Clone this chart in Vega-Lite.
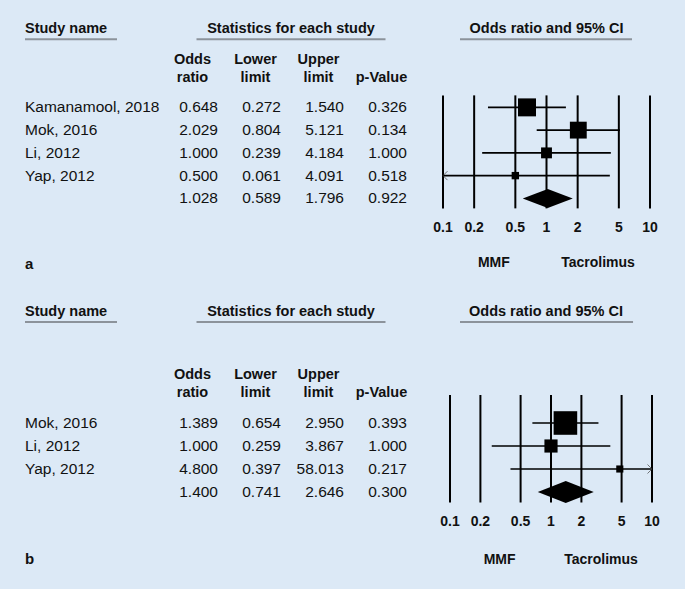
{
  "$schema": "https://vega.github.io/schema/vega-lite/v6.json",
  "background": "#dce9f6",
  "padding": {"left": 24, "top": 5, "right": 36, "bottom": 20},
  "spacing": 18.5,
  "config": {
    "view": {"stroke": null},
    "text": {"font": "Liberation Sans", "color": "#111111"}
  },
  "datasets": {
    "a_rows": [
      {"row": "Kamanamool, 2018", "type": "study", "or": 0.648, "lo": 0.272, "hi": 1.540, "p": 0.326, "w": 41.4},
      {"row": "Mok, 2016", "type": "study", "or": 2.029, "lo": 0.804, "hi": 5.121, "p": 0.134, "w": 36.4},
      {"row": "Li, 2012", "type": "study", "or": 1.000, "lo": 0.239, "hi": 4.184, "p": 1.000, "w": 15.2},
      {"row": "Yap, 2012", "type": "study", "or": 0.500, "lo": 0.061, "hi": 4.091, "p": 0.518, "w": 7.0},
      {"row": "Overall", "type": "summary", "or": 1.028, "lo": 0.589, "hi": 1.796, "p": 0.922}
    ],
    "b_rows": [
      {"row": "Mok, 2016", "type": "study", "or": 1.389, "lo": 0.654, "hi": 2.950, "p": 0.393, "w": 71.3},
      {"row": "Li, 2012", "type": "study", "or": 1.000, "lo": 0.259, "hi": 3.867, "p": 1.000, "w": 22.2},
      {"row": "Yap, 2012", "type": "study", "or": 4.800, "lo": 0.397, "hi": 58.013, "p": 0.217, "w": 6.5},
      {"row": "Overall", "type": "summary", "or": 1.400, "lo": 0.741, "hi": 2.646, "p": 0.300}
    ],
    "ticks": [{"v": 0.1}, {"v": 0.2}, {"v": 0.5}, {"v": 1}, {"v": 2}, {"v": 5}, {"v": 10}],
    "colheads": [
      {"col": "or", "line": 1, "h": "Odds"},
      {"col": "or", "line": 2, "h": "ratio"},
      {"col": "lo", "line": 1, "h": "Lower"},
      {"col": "lo", "line": 2, "h": "limit"},
      {"col": "hi", "line": 1, "h": "Upper"},
      {"col": "hi", "line": 2, "h": "limit"},
      {"col": "p", "line": 2, "h": "p-Value"}
    ]
  },
  "vconcat": [
    {
      "bounds": "flush",
      "spacing": 48,
      "hconcat": [
        {
          "width": 92,
          "height": 273,
          "encoding": {"y": {"field": "row", "type": "nominal", "scale": {"type": "band", "domain": ["top", "hdr", "g1", "ch", "Kamanamool, 2018", "Mok, 2016", "Li, 2012", "Yap, 2012", "Overall", "ticks", "g2", "fav"], "paddingInner": 0, "paddingOuter": 0}, "axis": null}},
          "layer": [
            {
              "data": {"name": "a_rows"},
              "transform": [{"filter": "datum.type === 'study'"}],
              "mark": {"type": "text", "align": "left", "baseline": "middle", "fontSize": 15.5},
              "encoding": {
                "x": {"datum": "name", "type": "nominal", "scale": {"type": "point", "domain": ["name"], "padding": 0, "align": 0}, "axis": null},
                "text": {"field": "row"}
              }
            },
            {
              "data": {"values": [{"row": "hdr", "t": "Study name"}]},
              "mark": {"type": "text", "align": "left", "baseline": "middle", "dy": -10, "fontSize": 14.5, "fontWeight": "bold"},
              "encoding": {
                "x": {"datum": "name", "type": "nominal", "scale": {"type": "point", "domain": ["name"], "padding": 0, "align": 0}, "axis": null},
                "text": {"field": "t"}
              }
            },
            {
              "data": {"values": [{"row": "hdr"}]},
              "mark": {"type": "rule", "color": "#8c939b", "strokeWidth": 2},
              "encoding": {}
            },
            {
              "data": {"values": [{"row": "fav", "t": "a"}]},
              "mark": {"type": "text", "align": "left", "baseline": "middle", "dy": -2.5, "fontSize": 15, "fontWeight": "bold"},
              "encoding": {
                "x": {"datum": "name", "type": "nominal", "scale": {"type": "point", "domain": ["name"], "padding": 0, "align": 0}, "axis": null},
                "text": {"field": "t"}
              }
            }
          ]
        },
        {
          "bounds": "flush",
          "spacing": 26,
          "hconcat": [
            {
              "width": 252,
              "height": 273,
              "encoding": {"y": {"field": "row", "type": "nominal", "scale": {"type": "band", "domain": ["top", "hdr", "g1", "ch", "Kamanamool, 2018", "Mok, 2016", "Li, 2012", "Yap, 2012", "Overall", "ticks", "g2", "fav"], "paddingInner": 0, "paddingOuter": 0}, "axis": null}},
              "layer": [
                {
                  "data": {"name": "a_rows"},
                  "transform": [{"fold": ["or", "lo", "hi", "p"], "as": ["col", "val"]}],
                  "mark": {"type": "text", "align": "right", "baseline": "middle", "fontSize": 15.5, "dx": -10},
                  "encoding": {
                    "x": {"field": "col", "type": "nominal", "bandPosition": 1, "scale": {"type": "band", "domain": ["or", "lo", "hi", "p"], "paddingInner": 0, "paddingOuter": 0}, "axis": null},
                    "text": {"field": "val", "type": "quantitative", "format": ".3f"}
                  }
                },
                {
                  "data": {"name": "colheads"},
                  "transform": [{"filter": "datum.line === 1"}],
                  "mark": {"type": "text", "align": "center", "baseline": "bottom", "fontSize": 14.5, "fontWeight": "bold", "dx": -4, "dy": -18},
                  "encoding": {
                    "x": {"field": "col", "type": "nominal", "scale": {"type": "band", "domain": ["or", "lo", "hi", "p"], "paddingInner": 0, "paddingOuter": 0}, "axis": null},
                    "y": {"datum": "ch", "type": "nominal", "scale": {"type": "band", "domain": ["top", "hdr", "g1", "ch", "Kamanamool, 2018", "Mok, 2016", "Li, 2012", "Yap, 2012", "Overall", "ticks", "g2", "fav"], "paddingInner": 0, "paddingOuter": 0}, "axis": null},
                    "text": {"field": "h"}
                  }
                },
                {
                  "data": {"name": "colheads"},
                  "transform": [{"filter": "datum.line === 2"}],
                  "mark": {"type": "text", "align": "center", "baseline": "bottom", "fontSize": 14.5, "fontWeight": "bold", "dx": -4},
                  "encoding": {
                    "x": {"field": "col", "type": "nominal", "scale": {"type": "band", "domain": ["or", "lo", "hi", "p"], "paddingInner": 0, "paddingOuter": 0}, "axis": null},
                    "y": {"datum": "ch", "type": "nominal", "scale": {"type": "band", "domain": ["top", "hdr", "g1", "ch", "Kamanamool, 2018", "Mok, 2016", "Li, 2012", "Yap, 2012", "Overall", "ticks", "g2", "fav"], "paddingInner": 0, "paddingOuter": 0}, "axis": null},
                    "text": {"field": "h"}
                  }
                },
                {
                  "data": {"values": [{"row": "hdr", "col": "lo", "t": "Statistics for each study"}]},
                  "mark": {"type": "text", "align": "center", "baseline": "middle", "dy": -10, "fontSize": 14.5, "fontWeight": "bold"},
                  "encoding": {
                    "x": {"field": "col", "type": "nominal", "bandPosition": 1, "scale": {"type": "band", "domain": ["or", "lo", "hi", "p"], "paddingInner": 0, "paddingOuter": 0}, "axis": null},
                    "text": {"field": "t"}
                  }
                },
                {
                  "data": {"values": [{"row": "hdr", "col": "or", "col2": "p"}]},
                  "mark": {"type": "rule", "color": "#8c939b", "strokeWidth": 2},
                  "encoding": {
                    "x": {"field": "col", "type": "nominal", "scale": {"type": "band", "domain": ["or", "lo", "hi", "p"], "paddingInner": 0, "paddingOuter": 0}, "axis": null},
                    "x2": {"field": "col2"}
                  }
                }
              ]
            },
            {
              "width": 207,
              "height": 273,
              "encoding": {"y": {"field": "row", "type": "nominal", "scale": {"type": "band", "domain": ["top", "hdr", "g1", "ch", "Kamanamool, 2018", "Mok, 2016", "Li, 2012", "Yap, 2012", "Overall", "ticks", "g2", "fav"], "paddingInner": 0, "paddingOuter": 0}, "axis": null}},
              "layer": [
                {
                  "data": {"name": "ticks"},
                  "mark": {"type": "rule", "color": "#000000", "strokeWidth": 2, "yOffset": -12, "y2Offset": 10},
                  "encoding": {
                    "x": {"field": "v", "type": "quantitative", "scale": {"type": "log", "domain": [0.1, 10], "clamp": true, "nice": false}, "axis": null},
                    "y": {"datum": "Kamanamool, 2018", "type": "nominal", "scale": {"type": "band", "domain": ["top", "hdr", "g1", "ch", "Kamanamool, 2018", "Mok, 2016", "Li, 2012", "Yap, 2012", "Overall", "ticks", "g2", "fav"], "paddingInner": 0, "paddingOuter": 0}, "axis": null},
                    "y2": {"datum": "Overall"}
                  }
                },
                {
                  "data": {"name": "ticks"},
                  "mark": {"type": "text", "align": "center", "baseline": "middle", "dy": 7, "fontSize": 14, "fontWeight": "bold"},
                  "encoding": {
                    "x": {"field": "v", "type": "quantitative", "scale": {"type": "log", "domain": [0.1, 10], "clamp": true, "nice": false}, "axis": null},
                    "y": {"datum": "ticks", "type": "nominal", "scale": {"type": "band", "domain": ["top", "hdr", "g1", "ch", "Kamanamool, 2018", "Mok, 2016", "Li, 2012", "Yap, 2012", "Overall", "ticks", "g2", "fav"], "paddingInner": 0, "paddingOuter": 0}, "axis": null},
                    "text": {"field": "v", "type": "quantitative", "format": "~g"}
                  }
                },
                {
                  "data": {"name": "a_rows"},
                  "transform": [{"filter": "datum.type === 'study'"}],
                  "mark": {"type": "rule", "color": "#000000", "strokeWidth": 1.6},
                  "encoding": {
                    "x": {"field": "lo", "type": "quantitative", "scale": {"type": "log", "domain": [0.1, 10], "clamp": true, "nice": false}, "axis": null},
                    "x2": {"field": "hi"}
                  }
                },
                {
                  "data": {"name": "a_rows"},
                  "transform": [{"filter": "datum.lo < 0.1"}],
                  "mark": {"type": "point", "shape": "M1,-1L0,0L1,1", "filled": false, "stroke": "#444444", "strokeWidth": 1, "size": 81},
                  "encoding": {
                    "x": {"field": "lo", "type": "quantitative", "scale": {"type": "log", "domain": [0.1, 10], "clamp": true, "nice": false}, "axis": null}
                  }
                },
                {
                  "data": {"name": "a_rows"},
                  "transform": [{"filter": "datum.type === 'study'"}],
                  "mark": {"type": "point", "shape": "square", "filled": true, "color": "#000000", "opacity": 1, "strokeWidth": 0},
                  "encoding": {
                    "x": {"field": "or", "type": "quantitative", "scale": {"type": "log", "domain": [0.1, 10], "clamp": true, "nice": false}, "axis": null},
                    "size": {"field": "w", "type": "quantitative", "scale": {"domain": [0, 100], "range": [0, 780]}, "legend": null}
                  }
                },
                {
                  "data": {"name": "a_rows"},
                  "transform": [{"filter": "datum.type === 'summary'"}],
                  "mark": {"type": "point", "shape": "M-1,0L0,-0.38L1,0L0,0.38Z", "filled": true, "color": "#000000", "opacity": 1, "strokeWidth": 0, "size": 2500},
                  "encoding": {
                    "x": {"field": "or", "type": "quantitative", "scale": {"type": "log", "domain": [0.1, 10], "clamp": true, "nice": false}, "axis": null}
                  }
                },
                {
                  "data": {"values": [{"row": "hdr", "t": "Odds ratio and 95% CI"}]},
                  "mark": {"type": "text", "align": "center", "baseline": "middle", "dy": -10, "fontSize": 14.5, "fontWeight": "bold"},
                  "encoding": {
                    "x": {"datum": 1, "type": "quantitative", "scale": {"type": "log", "domain": [0.1, 10], "clamp": true, "nice": false}, "axis": null},
                    "text": {"field": "t"}
                  }
                },
                {
                  "data": {"values": [{"row": "hdr"}]},
                  "mark": {"type": "rule", "color": "#8c939b", "strokeWidth": 2},
                  "encoding": {
                    "x": {"datum": 0.146, "type": "quantitative", "scale": {"type": "log", "domain": [0.1, 10], "clamp": true, "nice": false}, "axis": null},
                    "x2": {"datum": 6.7}
                  }
                },
                {
                  "data": {"values": [{"row": "fav", "t": "MMF"}]},
                  "mark": {"type": "text", "align": "center", "baseline": "middle", "dy": -3.5, "fontSize": 14, "fontWeight": "bold"},
                  "encoding": {
                    "x": {"datum": 0.31, "type": "quantitative", "scale": {"type": "log", "domain": [0.1, 10], "clamp": true, "nice": false}, "axis": null},
                    "text": {"field": "t"}
                  }
                },
                {
                  "data": {"values": [{"row": "fav", "t": "Tacrolimus"}]},
                  "mark": {"type": "text", "align": "center", "baseline": "middle", "dy": -3.5, "fontSize": 14, "fontWeight": "bold"},
                  "encoding": {
                    "x": {"datum": 3.15, "type": "quantitative", "scale": {"type": "log", "domain": [0.1, 10], "clamp": true, "nice": false}, "axis": null},
                    "text": {"field": "t"}
                  }
                }
              ]
            }
          ]
        }
      ]
    },
    {
      "bounds": "flush",
      "spacing": 48,
      "hconcat": [
        {
          "width": 92,
          "height": 276,
          "encoding": {"y": {"field": "row", "type": "nominal", "scale": {"type": "band", "domain": ["top", "hdr", "g1", "g2", "ch", "Mok, 2016", "Li, 2012", "Yap, 2012", "Overall", "ticks", "g3", "fav"], "paddingInner": 0, "paddingOuter": 0}, "axis": null}},
          "layer": [
            {
              "data": {"name": "b_rows"},
              "transform": [{"filter": "datum.type === 'study'"}],
              "mark": {"type": "text", "align": "left", "baseline": "middle", "fontSize": 15.5},
              "encoding": {
                "x": {"datum": "name", "type": "nominal", "scale": {"type": "point", "domain": ["name"], "padding": 0, "align": 0}, "axis": null},
                "text": {"field": "row"}
              }
            },
            {
              "data": {"values": [{"row": "hdr", "t": "Study name"}]},
              "mark": {"type": "text", "align": "left", "baseline": "middle", "dy": -19, "fontSize": 14.5, "fontWeight": "bold"},
              "encoding": {
                "x": {"datum": "name", "type": "nominal", "scale": {"type": "point", "domain": ["name"], "padding": 0, "align": 0}, "axis": null},
                "text": {"field": "t"}
              }
            },
            {
              "data": {"values": [{"row": "hdr"}]},
              "mark": {"type": "rule", "color": "#8c939b", "strokeWidth": 2, "yOffset": -9},
              "encoding": {}
            },
            {
              "data": {"values": [{"row": "fav", "t": "b"}]},
              "mark": {"type": "text", "align": "left", "baseline": "middle", "dy": -2, "fontSize": 15, "fontWeight": "bold"},
              "encoding": {
                "x": {"datum": "name", "type": "nominal", "scale": {"type": "point", "domain": ["name"], "padding": 0, "align": 0}, "axis": null},
                "text": {"field": "t"}
              }
            }
          ]
        },
        {
          "bounds": "flush",
          "spacing": 33,
          "hconcat": [
            {
              "width": 252,
              "height": 276,
              "encoding": {"y": {"field": "row", "type": "nominal", "scale": {"type": "band", "domain": ["top", "hdr", "g1", "g2", "ch", "Mok, 2016", "Li, 2012", "Yap, 2012", "Overall", "ticks", "g3", "fav"], "paddingInner": 0, "paddingOuter": 0}, "axis": null}},
              "layer": [
                {
                  "data": {"name": "b_rows"},
                  "transform": [{"fold": ["or", "lo", "hi", "p"], "as": ["col", "val"]}],
                  "mark": {"type": "text", "align": "right", "baseline": "middle", "fontSize": 15.5, "dx": -10},
                  "encoding": {
                    "x": {"field": "col", "type": "nominal", "bandPosition": 1, "scale": {"type": "band", "domain": ["or", "lo", "hi", "p"], "paddingInner": 0, "paddingOuter": 0}, "axis": null},
                    "text": {"field": "val", "type": "quantitative", "format": ".3f"}
                  }
                },
                {
                  "data": {"name": "colheads"},
                  "transform": [{"filter": "datum.line === 1"}],
                  "mark": {"type": "text", "align": "center", "baseline": "bottom", "fontSize": 14.5, "fontWeight": "bold", "dx": -4, "dy": -18},
                  "encoding": {
                    "x": {"field": "col", "type": "nominal", "scale": {"type": "band", "domain": ["or", "lo", "hi", "p"], "paddingInner": 0, "paddingOuter": 0}, "axis": null},
                    "y": {"datum": "ch", "type": "nominal", "scale": {"type": "band", "domain": ["top", "hdr", "g1", "g2", "ch", "Mok, 2016", "Li, 2012", "Yap, 2012", "Overall", "ticks", "g3", "fav"], "paddingInner": 0, "paddingOuter": 0}, "axis": null},
                    "text": {"field": "h"}
                  }
                },
                {
                  "data": {"name": "colheads"},
                  "transform": [{"filter": "datum.line === 2"}],
                  "mark": {"type": "text", "align": "center", "baseline": "bottom", "fontSize": 14.5, "fontWeight": "bold", "dx": -4},
                  "encoding": {
                    "x": {"field": "col", "type": "nominal", "scale": {"type": "band", "domain": ["or", "lo", "hi", "p"], "paddingInner": 0, "paddingOuter": 0}, "axis": null},
                    "y": {"datum": "ch", "type": "nominal", "scale": {"type": "band", "domain": ["top", "hdr", "g1", "g2", "ch", "Mok, 2016", "Li, 2012", "Yap, 2012", "Overall", "ticks", "g3", "fav"], "paddingInner": 0, "paddingOuter": 0}, "axis": null},
                    "text": {"field": "h"}
                  }
                },
                {
                  "data": {"values": [{"row": "hdr", "col": "lo", "t": "Statistics for each study"}]},
                  "mark": {"type": "text", "align": "center", "baseline": "middle", "dy": -19, "fontSize": 14.5, "fontWeight": "bold"},
                  "encoding": {
                    "x": {"field": "col", "type": "nominal", "bandPosition": 1, "scale": {"type": "band", "domain": ["or", "lo", "hi", "p"], "paddingInner": 0, "paddingOuter": 0}, "axis": null},
                    "text": {"field": "t"}
                  }
                },
                {
                  "data": {"values": [{"row": "hdr", "col": "or", "col2": "p"}]},
                  "mark": {"type": "rule", "color": "#8c939b", "strokeWidth": 2, "yOffset": -9},
                  "encoding": {
                    "x": {"field": "col", "type": "nominal", "scale": {"type": "band", "domain": ["or", "lo", "hi", "p"], "paddingInner": 0, "paddingOuter": 0}, "axis": null},
                    "x2": {"field": "col2"}
                  }
                }
              ]
            },
            {
              "width": 202,
              "height": 276,
              "encoding": {"y": {"field": "row", "type": "nominal", "scale": {"type": "band", "domain": ["top", "hdr", "g1", "g2", "ch", "Mok, 2016", "Li, 2012", "Yap, 2012", "Overall", "ticks", "g3", "fav"], "paddingInner": 0, "paddingOuter": 0}, "axis": null}},
              "layer": [
                {
                  "data": {"name": "ticks"},
                  "mark": {"type": "rule", "color": "#000000", "strokeWidth": 2, "yOffset": -5, "y2Offset": 10.5},
                  "encoding": {
                    "x": {"field": "v", "type": "quantitative", "scale": {"type": "log", "domain": [0.1, 10], "clamp": true, "nice": false}, "axis": null},
                    "y": {"datum": "ch", "type": "nominal", "scale": {"type": "band", "domain": ["top", "hdr", "g1", "g2", "ch", "Mok, 2016", "Li, 2012", "Yap, 2012", "Overall", "ticks", "g3", "fav"], "paddingInner": 0, "paddingOuter": 0}, "axis": null},
                    "y2": {"datum": "Overall"}
                  }
                },
                {
                  "data": {"name": "ticks"},
                  "mark": {"type": "text", "align": "center", "baseline": "middle", "dy": 7, "fontSize": 14, "fontWeight": "bold"},
                  "encoding": {
                    "x": {"field": "v", "type": "quantitative", "scale": {"type": "log", "domain": [0.1, 10], "clamp": true, "nice": false}, "axis": null},
                    "y": {"datum": "ticks", "type": "nominal", "scale": {"type": "band", "domain": ["top", "hdr", "g1", "g2", "ch", "Mok, 2016", "Li, 2012", "Yap, 2012", "Overall", "ticks", "g3", "fav"], "paddingInner": 0, "paddingOuter": 0}, "axis": null},
                    "text": {"field": "v", "type": "quantitative", "format": "~g"}
                  }
                },
                {
                  "data": {"name": "b_rows"},
                  "transform": [{"filter": "datum.type === 'study'"}],
                  "mark": {"type": "rule", "color": "#000000", "strokeWidth": 1.6},
                  "encoding": {
                    "x": {"field": "lo", "type": "quantitative", "scale": {"type": "log", "domain": [0.1, 10], "clamp": true, "nice": false}, "axis": null},
                    "x2": {"field": "hi"}
                  }
                },
                {
                  "data": {"name": "b_rows"},
                  "transform": [{"filter": "datum.hi > 10"}],
                  "mark": {"type": "point", "shape": "M-1,-1L0,0L-1,1", "filled": false, "stroke": "#444444", "strokeWidth": 1, "size": 81},
                  "encoding": {
                    "x": {"field": "hi", "type": "quantitative", "scale": {"type": "log", "domain": [0.1, 10], "clamp": true, "nice": false}, "axis": null}
                  }
                },
                {
                  "data": {"name": "b_rows"},
                  "transform": [{"filter": "datum.type === 'study'"}],
                  "mark": {"type": "point", "shape": "square", "filled": true, "color": "#000000", "opacity": 1, "strokeWidth": 0},
                  "encoding": {
                    "x": {"field": "or", "type": "quantitative", "scale": {"type": "log", "domain": [0.1, 10], "clamp": true, "nice": false}, "axis": null},
                    "size": {"field": "w", "type": "quantitative", "scale": {"domain": [0, 100], "range": [0, 640]}, "legend": null}
                  }
                },
                {
                  "data": {"name": "b_rows"},
                  "transform": [{"filter": "datum.type === 'summary'"}],
                  "mark": {"type": "point", "shape": "M-1,0L0,-0.39L1,0L0,0.39Z", "filled": true, "color": "#000000", "opacity": 1, "strokeWidth": 0, "size": 3136},
                  "encoding": {
                    "x": {"field": "or", "type": "quantitative", "scale": {"type": "log", "domain": [0.1, 10], "clamp": true, "nice": false}, "axis": null}
                  }
                },
                {
                  "data": {"values": [{"row": "hdr", "t": "Odds ratio and 95% CI"}]},
                  "mark": {"type": "text", "align": "center", "baseline": "middle", "dy": -19, "fontSize": 14.5, "fontWeight": "bold"},
                  "encoding": {
                    "x": {"datum": 0.892, "type": "quantitative", "scale": {"type": "log", "domain": [0.1, 10], "clamp": true, "nice": false}, "axis": null},
                    "text": {"field": "t"}
                  }
                },
                {
                  "data": {"values": [{"row": "hdr"}]},
                  "mark": {"type": "rule", "color": "#8c939b", "strokeWidth": 2, "yOffset": -9},
                  "encoding": {
                    "x": {"datum": 0.1256, "type": "quantitative", "scale": {"type": "log", "domain": [0.1, 10], "clamp": true, "nice": false}, "axis": null},
                    "x2": {"datum": 6.49}
                  }
                },
                {
                  "data": {"values": [{"row": "fav", "t": "MMF"}]},
                  "mark": {"type": "text", "align": "center", "baseline": "middle", "dy": -1, "fontSize": 14, "fontWeight": "bold"},
                  "encoding": {
                    "x": {"datum": 0.31, "type": "quantitative", "scale": {"type": "log", "domain": [0.1, 10], "clamp": true, "nice": false}, "axis": null},
                    "text": {"field": "t"}
                  }
                },
                {
                  "data": {"values": [{"row": "fav", "t": "Tacrolimus"}]},
                  "mark": {"type": "text", "align": "center", "baseline": "middle", "dy": -1, "fontSize": 14, "fontWeight": "bold"},
                  "encoding": {
                    "x": {"datum": 3.13, "type": "quantitative", "scale": {"type": "log", "domain": [0.1, 10], "clamp": true, "nice": false}, "axis": null},
                    "text": {"field": "t"}
                  }
                }
              ]
            }
          ]
        }
      ]
    }
  ]
}
